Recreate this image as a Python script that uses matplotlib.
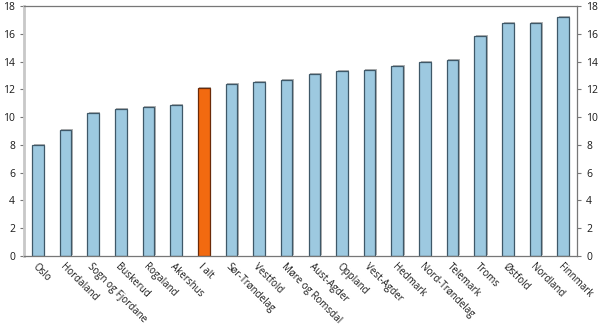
import matplotlib.pyplot as plt
import matplotlib.transforms as mtransforms

counties = ['Oslo', 'Hordaland', 'Sogn og Fjordane', 'Buskerud', 'Rogaland',
            'Akershus', 'I alt', 'Sør-Trøndelag', 'Vestfold', 'Møre og Romsdal',
            'Aust-Agder', 'Oppland', 'Vest-Agder', 'Hedmark', 'Nord-Trøndelag',
            'Telemark', 'Troms', 'Østfold', 'Nordland', 'Finnmark']
values = [8.0, 9.1, 10.3, 10.55, 10.7, 10.85, 12.1, 12.35, 12.5, 12.7,
          13.1, 13.3, 13.4, 13.7, 14.0, 14.1, 15.85, 16.75, 16.8, 17.2]
highlight = 'I alt'
yticks = [0, 2, 4, 6, 8, 10, 12, 14, 16, 18]

plt.rcParams['font.family'] = ['Open Sans', 'DejaVu Sans']

fig = plt.figure(figsize=(6.0, 3.31), dpi=100)
ax = fig.add_axes([24 / 600, 75 / 331, 553 / 600, 250 / 331])

x = list(range(len(counties)))
colors = ['#f26a10' if c == highlight else '#9dc9e0' for c in counties]
edges = ['#6b2a08' if c == highlight else '#3e5868' for c in counties]

# soft drop shadow behind each bar
shadow = mtransforms.offset_copy(ax.transData, fig=fig, x=1.5, y=1.0, units='dots')
ax.bar(x, values, width=0.42, color='#b4b4b4', linewidth=0, transform=shadow, zorder=1)
ax.bar(x, values, width=0.42, color=colors, edgecolor=edges, linewidth=0.9, zorder=2)

ax.set_xlim(-0.5, len(counties) - 0.5)
ax.set_ylim(0, 18)
ax.set_yticks(yticks)
ax.set_xticks(x)
ax.set_xticklabels(counties, rotation=-45, ha='left', va='top',
                   rotation_mode='anchor', fontsize=7, color='#1a1a1a')
ax.tick_params(axis='x', length=0, pad=4)
ax.tick_params(axis='y', labelsize=7.5, colors='#1a1a1a', length=3,
               left=True, right=True, labelleft=True, labelright=True,
               color='#777777', width=0.8)

ax.spines['left'].set_color('#c8c8c8')
ax.spines['left'].set_linewidth(2)
ax.spines['right'].set_color('#777777')
ax.spines['top'].set_color('#777777')
ax.spines['bottom'].set_color('#777777')
for s in ['right', 'top', 'bottom']:
    ax.spines[s].set_linewidth(0.9)

fig.savefig('out.png', dpi=100)
